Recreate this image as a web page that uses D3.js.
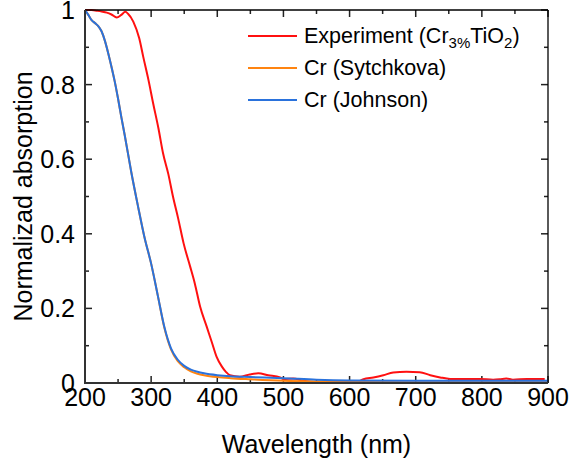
<html>
<head>
<script src="https://d3js.org/d3.v7.min.js"></script>
<style>
  body { margin: 0; background: #fff; }
  svg text { font-family: "Liberation Sans", Arial, sans-serif; fill: #000; }
</style>
</head>
<body>
<script>
// experiment (Cr 3% TiO2)
var expWl = [200, 210, 218, 225, 233, 240, 248, 255, 261, 265, 273, 282, 288, 296, 303, 311, 318, 326, 333, 341, 349,
  359, 366, 374, 384, 392, 399, 407, 413, 419, 434, 449, 462, 477, 495, 500, 515, 530, 550, 580, 610, 621, 636, 651,
  666, 686, 706, 722, 737, 752, 797, 817, 827, 837, 847, 868, 895];
var expAbs = [1.0, 1.0, 0.998, 0.996, 0.993, 0.988, 0.98, 0.987, 0.995, 0.99, 0.969, 0.924, 0.875, 0.812, 0.75, 0.683,
  0.616, 0.56, 0.50, 0.44, 0.375, 0.312, 0.267, 0.205, 0.151, 0.108, 0.07, 0.044, 0.03, 0.021, 0.017, 0.023, 0.026,
  0.021, 0.015, 0.011, 0.012, 0.006, 0.002, 0.001, 0.002, 0.010, 0.015, 0.021, 0.028, 0.030, 0.029, 0.021, 0.015,
  0.011, 0.011, 0.009, 0.010, 0.012, 0.009, 0.011, 0.011];

// Cr reference curves
var crWl = [200, 205, 210, 215, 220, 225, 230, 235, 240, 245, 250, 255, 260, 270, 280, 290, 300, 310, 320, 330, 340,
  350, 360, 370, 380, 400, 420, 450, 500, 550, 600, 700, 800, 900];
var sytchkova = [1.0, 0.987, 0.973, 0.965, 0.957, 0.943, 0.918, 0.885, 0.848, 0.808, 0.762, 0.712, 0.665, 0.565,
  0.475, 0.39, 0.32, 0.235, 0.148, 0.09, 0.059, 0.042, 0.031, 0.025, 0.021, 0.016, 0.013, 0.010, 0.006, 0.004,
  0.003, 0.002, 0.002, 0.002];
var johnson = [1.0, 0.987, 0.973, 0.965, 0.957, 0.943, 0.918, 0.885, 0.848, 0.808, 0.762, 0.712, 0.665, 0.565,
  0.475, 0.39, 0.32, 0.235, 0.15, 0.093, 0.063, 0.046, 0.036, 0.030, 0.026, 0.021, 0.018, 0.016, 0.013, 0.009,
  0.007, 0.006, 0.006, 0.006];

var xTicks = [200, 300, 400, 500, 600, 700, 800, 900];
var yTicks = [0, 0.2, 0.4, 0.6, 0.8, 1];
var yTickLabels = ["0", "0.2", "0.4", "0.6", "0.8", "1"];

var width = 571, height = 465;
var pLeft = 85, pRight = 548, pTop = 10, pBottom = 383;

var svg = d3.select("body").append("svg")
  .attr("width", width)
  .attr("height", height);

var x = d3.scaleLinear().domain([200, 900]).range([pLeft, pRight]);
var y = d3.scaleLinear().domain([0, 1]).range([pBottom, pTop]);

// ticks (inward on all four sides)
var xMinor = d3.range(250, 900, 100);
var yMinor = [0.1, 0.3, 0.5, 0.7, 0.9];
var tk = svg.append("g").attr("stroke", "#222").attr("stroke-width", 1.5);
xTicks.forEach(function(d) {
  tk.append("line").attr("x1", x(d)).attr("x2", x(d)).attr("y1", pBottom).attr("y2", pBottom - 7);
  tk.append("line").attr("x1", x(d)).attr("x2", x(d)).attr("y1", pTop).attr("y2", pTop + 7);
});
xMinor.forEach(function(d) {
  tk.append("line").attr("x1", x(d)).attr("x2", x(d)).attr("y1", pBottom).attr("y2", pBottom - 4);
  tk.append("line").attr("x1", x(d)).attr("x2", x(d)).attr("y1", pTop).attr("y2", pTop + 4);
});
yTicks.forEach(function(d) {
  tk.append("line").attr("x1", pLeft).attr("x2", pLeft + 7).attr("y1", y(d)).attr("y2", y(d));
  tk.append("line").attr("x1", pRight).attr("x2", pRight - 7).attr("y1", y(d)).attr("y2", y(d));
});
yMinor.forEach(function(d) {
  tk.append("line").attr("x1", pLeft).attr("x2", pLeft + 4).attr("y1", y(d)).attr("y2", y(d));
  tk.append("line").attr("x1", pRight).attr("x2", pRight - 4).attr("y1", y(d)).attr("y2", y(d));
});

// curves
var series = [
  { wl: expWl, v: expAbs, color: "#ff1010" },
  { wl: crWl, v: sytchkova, color: "#ff8410" },
  { wl: crWl, v: johnson, color: "#2a72dc" }
];
var line = d3.line()
  .x(function(d) { return x(d[0]); })
  .y(function(d) { return y(d[1]); })
  .curve(d3.curveMonotoneX);
series.forEach(function(s) {
  svg.append("path")
    .datum(d3.zip(s.wl, s.v))
    .attr("fill", "none")
    .attr("stroke", s.color)
    .attr("stroke-width", 2)
    .attr("d", line);
});

// frame
svg.append("line").attr("x1", pLeft).attr("x2", pRight).attr("y1", pTop).attr("y2", pTop)
  .attr("stroke", "#000").attr("stroke-width", 1.3);
svg.append("line").attr("x1", pRight).attr("x2", pRight).attr("y1", pTop).attr("y2", pBottom)
  .attr("stroke", "#000").attr("stroke-width", 1.3);
svg.append("line").attr("x1", pLeft).attr("x2", pLeft).attr("y1", pTop).attr("y2", pBottom + 1)
  .attr("stroke", "#333").attr("stroke-width", 2);
svg.append("line").attr("x1", pLeft - 1).attr("x2", pRight).attr("y1", pBottom).attr("y2", pBottom)
  .attr("stroke", "#333").attr("stroke-width", 2);

// tick labels
svg.selectAll(".xl").data(xTicks).enter().append("text")
  .attr("x", function(d) { return x(d); })
  .attr("y", 406)
  .attr("text-anchor", "middle")
  .style("font-size", "25px")
  .text(function(d) { return d; });

svg.selectAll(".yl").data(yTicks).enter().append("text")
  .attr("x", 75)
  .attr("y", function(d) { return y(d) + 9; })
  .attr("text-anchor", "end")
  .style("font-size", "25px")
  .text(function(d, i) { return yTickLabels[i]; });

// axis titles
svg.append("text")
  .attr("x", (pLeft + pRight) / 2)
  .attr("y", 453)
  .attr("text-anchor", "middle")
  .style("font-size", "25px")
  .text("Wavelength (nm)");

svg.append("text")
  .attr("transform", "translate(32," + (pTop + pBottom) / 2 + ") rotate(-90)")
  .attr("text-anchor", "middle")
  .style("font-size", "25px")
  .text("Normalizad absorption");

// legend
var legY = [36, 68, 100];
var legColors = ["#ff1010", "#ff8410", "#2a72dc"];
legColors.forEach(function(c, i) {
  svg.append("line").attr("x1", 248).attr("x2", 297).attr("y1", legY[i]).attr("y2", legY[i])
    .attr("stroke", c).attr("stroke-width", 2);
});
var t0 = svg.append("text").attr("x", 304).attr("y", legY[0] + 7).style("font-size", "21.5px");
t0.append("tspan").text("Experiment (Cr");
t0.append("tspan").attr("dy", 5).style("font-size", "15px").text("3%");
t0.append("tspan").attr("dy", -5).text("TiO");
t0.append("tspan").attr("dy", 5).style("font-size", "15px").text("2");
t0.append("tspan").attr("dy", -5).text(")");
svg.append("text").attr("x", 304).attr("y", legY[1] + 7).style("font-size", "21.5px").text("Cr (Sytchkova)");
svg.append("text").attr("x", 304).attr("y", legY[2] + 7).style("font-size", "21.5px").text("Cr (Johnson)");
</script>
</body>
</html>
